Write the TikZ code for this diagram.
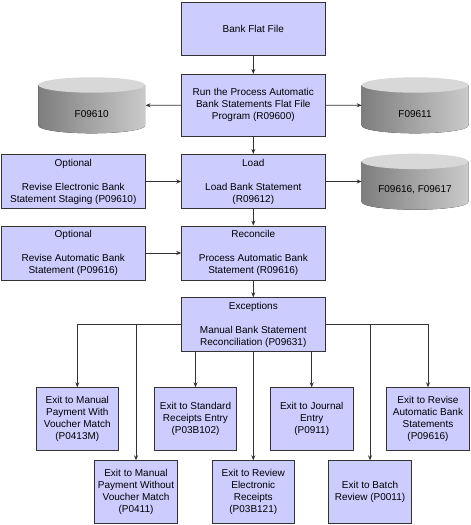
\documentclass[tikz,border=0pt]{standalone}
\usepackage{fontspec}
\setmainfont{Liberation Sans}
\usetikzlibrary{arrows.meta}
\definecolor{boxfill}{HTML}{CCCCFF}
\definecolor{edge}{HTML}{333333}
\definecolor{cylL}{HTML}{7E7E7E}
\definecolor{cylR}{HTML}{CACACA}
\definecolor{cylTop}{HTML}{D8D8D8}
\newcommand\drawcyl[2]{%
  \fill[left color=cylL, right color=cylR]
    (#1-53.3,#2-20.3) -- (#1-53.3,#2+20.3)
    arc[start angle=180, end angle=360, x radius=53.3pt, y radius=7.7pt]
    -- (#1+53.3,#2-20.3) -- cycle;
  \fill[cylTop] (#1,#2-20.3) ellipse[x radius=53.3pt, y radius=7.7pt];
}
\tikzset{
  box/.style={draw=edge, line width=0.8pt, fill=boxfill, align=center,
    inner sep=1pt, font=\fontsize{10}{12}\selectfont},
  wide/.style={box, minimum width=143.3pt},
  small/.style={box, minimum width=82.5pt, minimum height=63pt},
  cyltext/.style={font=\fontsize{10}{12}\selectfont, inner sep=0pt},
  arr/.style={draw=edge, line width=0.8pt, -{Stealth[length=5pt,width=4pt]}},
}
\begin{document}
\begin{tikzpicture}[x=1pt,y=-1pt]
\useasboundingbox (0,0) rectangle (471,525);
% cylinders
\drawcyl{415}{105.3}
\drawcyl{91.7}{105.3}
\drawcyl{415}{181.7}
\node[cyltext] (f09610) at (91.7,114) {F09610};
\node[cyltext] (f09611) at (415,114) {F09611};
\node[cyltext] (f09616) at (415,190) {F09616, F09617};
\coordinate (c1) at (145.5,105.3);
\coordinate (c2) at (361.7,105.3);
\coordinate (c3) at (361.7,181.5);
% main boxes
\node[wide, minimum height=53pt] (bff) at (253.3,29.3) {Bank Flat File};
\node[wide, minimum height=61.7pt] (run) at (253.3,105.2) {Run the Process Automatic\\Bank Statements Flat File\\Program (R09600)};
\node[wide, minimum height=54.3pt] (load) at (253.3,181.5) {Load\\[12pt]Load Bank Statement\\(R09612)};
\node[wide, minimum height=54pt] (rec) at (253.3,253) {Reconcile\\[12pt]Process Automatic Bank\\Statement (R09616)};
\node[wide, minimum height=54pt] (exc) at (253.3,324.7) {Exceptions\\[12pt]Manual Bank Statement\\Reconciliation (P09631)};
\node[wide, minimum height=54.3pt] (opt1) at (73.3,181.5) {Optional\\[12pt]Revise Electronic Bank\\Statement Staging (P09610)};
\node[wide, minimum height=54pt] (opt2) at (73.3,253) {Optional\\[12pt]Revise Automatic Bank\\Statement (P09616)};
% bottom row 1
\node[small] (a) at (77.3,419.2) {Exit to Manual\\Payment With\\Voucher Match\\(P0413M)};
\node[small] (c) at (195.5,419.2) {Exit to Standard\\Receipts Entry\\(P03B102)};
\node[small] (e) at (311.7,419.2) {Exit to Journal\\Entry\\(P0911)};
\node[small] (g) at (428,419.2) {Exit to Revise\\Automatic Bank\\Statements\\(P09616)};
% bottom row 2
\node[small, minimum height=62.6pt] (b) at (136,492) {Exit to Manual\\Payment Without\\Voucher Match\\(P0411)};
\node[small, minimum height=62.6pt] (d) at (253.3,492) {Exit to Review\\Electronic\\Receipts\\(P03B121)};
\node[small, minimum height=62.6pt] (f) at (370,492) {Exit to Batch\\Review (P0011)};
% connectors
\draw[arr] (bff) -- (run);
\draw[arr] (run) -- (load);
\draw[arr] (load) -- (rec);
\draw[arr] (rec) -- (exc);
\draw[arr] (run.west) -- (c1);
\draw[arr] (run.east) -- (c2);
\draw[arr] (load.east) -- (c3);
\draw[arr] (opt1) -- (load);
\draw[arr] (opt2) -- (rec);
\draw[arr] (exc.west) -| (a.north);
\draw[arr] (exc.west) -| (b.north);
\draw[arr] (exc.east) -| (g.north);
\draw[arr] (exc.east) -| (f.north);
\draw[arr] (exc.south -| c.north) -- (c.north);
\draw[arr] (exc.south) -- (d.north);
\draw[arr] (exc.south -| e.north) -- (e.north);
\end{tikzpicture}
\end{document}
